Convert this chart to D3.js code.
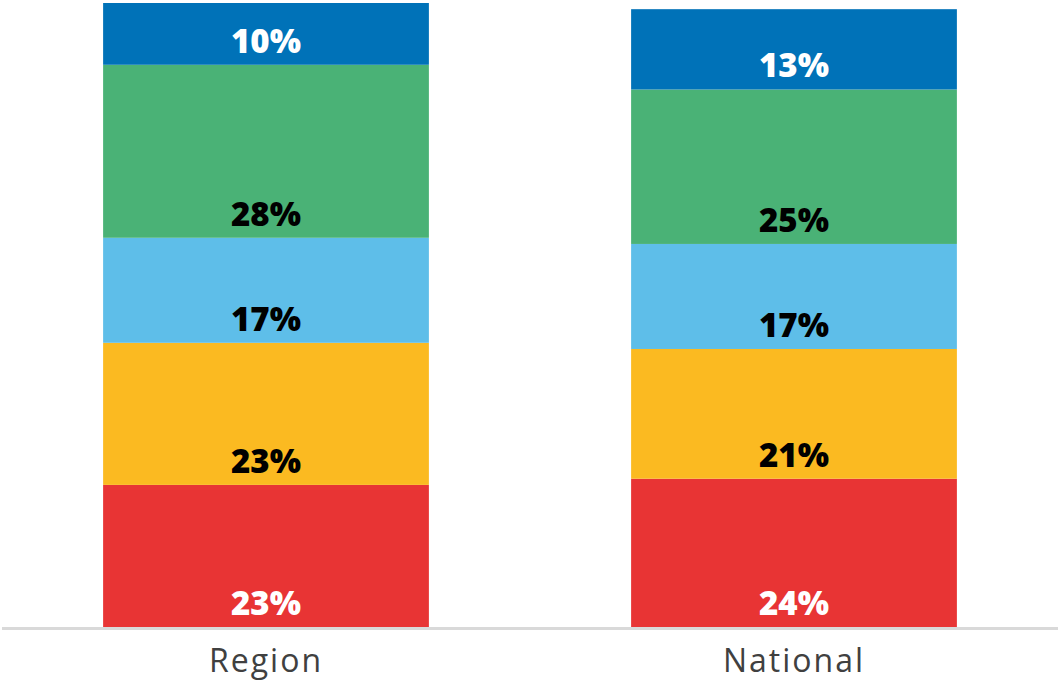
<!DOCTYPE html>
<html>
<head>
<meta charset="utf-8">
<script src="https://cdn.jsdelivr.net/npm/d3@7"></script>
<style>
  body { margin: 0; background: #fff; }
  svg { display: block; }
</style>
</head>
<body>
<svg id="chart" width="1058" height="682"></svg>
<script>
// data
const categories = ["Region", "National"];
const seriesNames = ["s1", "s2", "s3", "s4", "s5"]; // bottom to top
const regionValues = [23, 23, 17, 28, 10];
const nationalValues = [24, 21, 17, 25, 13];
const seriesColors = ["#E83434", "#FBBA21", "#5EBEE9", "#4AB276", "#0072B8"];
const labelColors = ["#fff", "#000", "#000", "#000", "#fff"];

const width = 1058, height = 682;
const svg = d3.select("#chart");

const rows = categories.map((c, i) => {
    const vals = i === 0 ? regionValues : nationalValues;
    const row = { category: c };
    seriesNames.forEach((s, j) => row[s] = vals[j]);
    return row;
});

const stacked = d3.stack().keys(seriesNames)(rows);

const x = d3.scaleBand()
    .domain(categories)
    .range([2, width])
    .paddingInner(0.383)
    .paddingOuter(0.1915);

const y = d3.scaleLinear()
    .domain([0, 101])
    .range([627, 3]);

// bars
const layers = svg.append("g").selectAll("g")
    .data(stacked).enter().append("g")
    .attr("fill", (d, i) => seriesColors[i]);

layers.selectAll("rect")
    .data(d => d).enter().append("rect")
    .attr("x", d => x(d.data.category))
    .attr("y", d => y(d[1]))
    .attr("width", x.bandwidth())
    .attr("height", d => y(d[0]) - y(d[1]));

// value labels sit near the bottom of each segment
stacked.forEach((layer, i) => {
    svg.append("g").selectAll("text")
        .data(layer).enter().append("text")
        .attr("x", d => x(d.data.category) + x.bandwidth() / 2)
        .attr("y", d => y(d[0]) - 12)
        .attr("text-anchor", "middle")
        .attr("font-family", "'Open Sans', sans-serif")
        .attr("font-weight", 800)
        .attr("font-size", "33px")
        .attr("fill", labelColors[i])
        .text(d => (d[1] - d[0]) + "%");
});

// baseline
svg.append("line")
    .attr("x1", 2).attr("x2", width)
    .attr("y1", 628.5).attr("y2", 628.5)
    .attr("stroke", "#d9d9d9")
    .attr("stroke-width", 3);

// category labels
svg.append("g").selectAll("text")
    .data(categories).enter().append("text")
    .attr("x", d => x(d) + x.bandwidth() / 2)
    .attr("y", 672)
    .attr("text-anchor", "middle")
    .attr("font-family", "'Open Sans', sans-serif")
    .attr("font-size", "32px")
    .attr("letter-spacing", "2px")
    .attr("fill", "#404040")
    .text(d => d);
</script>
</body>
</html>
